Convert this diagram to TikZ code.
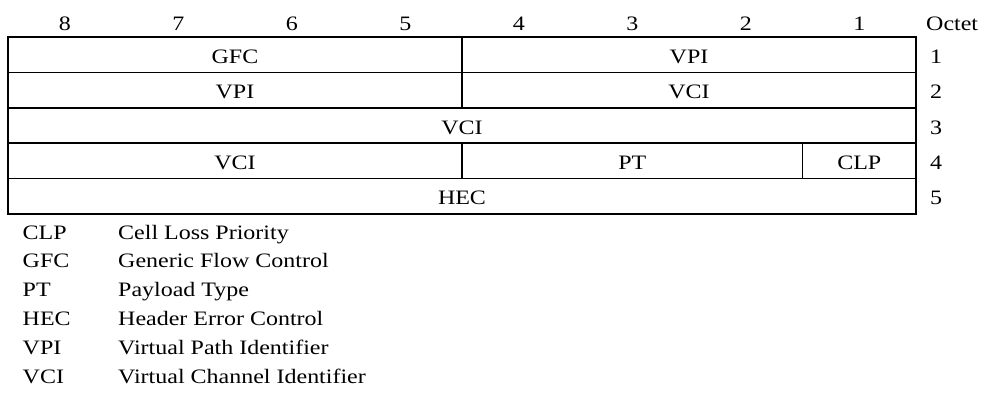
\documentclass[tikz,border=0pt]{standalone}
\usepackage{fontspec}
\setmainfont{Liberation Serif}[FakeStretch=1.17]
\usetikzlibrary{positioning}

\tikzset{field/.style={draw, line width=1.6pt, minimum height=35.4pt, inner sep=0pt, outer sep=0pt,
    text height=17pt, text depth=0pt},
  abbr/.style={anchor=base west, inner sep=0pt},
  desc/.style={anchor=base west, inner sep=0pt}}

\begin{document}
\begin{tikzpicture}[x=1pt,y=-1pt,font=\fontsize{20.5}{24}\selectfont]
        \useasboundingbox (0,0) rectangle (985,410);
        % bit numbers and octet column
        \foreach \b in {1,...,8}
          \node[anchor=base,inner sep=0pt] (bit\b) at ({8+113.5*(8.5-\b)},30) {\b};
        \node[anchor=base west,inner sep=0pt] (octet) at (926,30) {Octet};
        % header fields
        \node[field,minimum width=454pt] (gfc) at (235,54.7) {GFC};
        \node[field,minimum width=454pt] (vpia) at (689,54.7) {VPI};
        \node[field,minimum width=454pt] (vpib) at (235,90.1) {VPI};
        \node[field,minimum width=454pt] (vcia) at (689,90.1) {VCI};
        \node[field,minimum width=908pt] (vcib) at (462,125.5) {VCI};
        \node[field,minimum width=454pt] (vcic) at (235,160.9) {VCI};
        \node[field,minimum width=340.5pt] (pt) at (632.25,160.9) {PT};
        \node[field,minimum width=113.5pt] (clp) at (859.25,160.9) {CLP};
        \node[field,minimum width=908pt] (hec) at (462,196.3) {HEC};
        % octet numbers
        \foreach \o/\y in {1/54.7,2/90.1,3/125.5,4/160.9,5/196.3}
          \node[anchor=base west,inner sep=0pt] (oct\o) at (930,\y+8.5) {\o};
        % legend
        \foreach \a/\d [count=\i from 0] in {CLP/Cell Loss Priority,GFC/Generic Flow Control,
            PT/Payload Type,HEC/Header Error Control,VPI/Virtual Path Identifier,
            VCI/Virtual Channel Identifier}{
          \node[abbr] (abbr\i) at (22.5,{239+28.85*\i}) {\a};
          \node[desc] (desc\i) at (118,{239+28.85*\i}) {\d};
        }
      \end{tikzpicture}
\end{document}
